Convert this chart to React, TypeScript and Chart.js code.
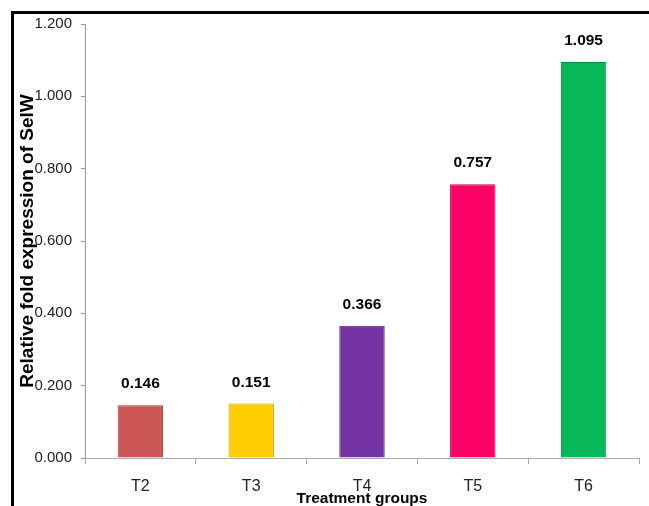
import React, { useEffect, useRef } from "react";
import { Chart, registerables } from "chart.js";

Chart.register(...registerables);

const categories = ["T2", "T3", "T4", "T5", "T6"];
const values = [0.146, 0.151, 0.366, 0.757, 1.095];
const barColors = ["#CD5757", "#FFCC00", "#7434A4", "#FF0066", "#06B858"];
const borderColors = ["#9E3E3E", "#C9A000", "#552680", "#C4004E", "#008A40"];
const yTickValues = [0, 0.2, 0.4, 0.6, 0.8, 1.0, 1.2];

const FONT = '"Liberation Sans", Arial, sans-serif';

const valueLabels = {
  id: "valueLabels",
  afterDatasetsDraw(chart: any) {
    const ctx = chart.ctx;
    const meta = chart.getDatasetMeta(0);
    ctx.save();
    ctx.font = `bold 15.5px ${FONT}`;
    ctx.fillStyle = "#000";
    ctx.textAlign = "center";
    ctx.textBaseline = "middle";
    meta.data.forEach((el: any, i: number) => {
      ctx.fillText(values[i].toFixed(3), el.x, el.y - 21);
    });
    ctx.restore();
  },
};

export default function App() {
  const ref = useRef<HTMLCanvasElement>(null);
  useEffect(() => {
    if (!ref.current) return;
    const chart = new Chart(ref.current, {
      type: "bar",
      data: {
        labels: categories,
        datasets: [
          {
            data: values,
            backgroundColor: barColors,
            borderColor: borderColors,
            borderWidth: 1,
            categoryPercentage: 1,
            barPercentage: 0.41,
          },
        ],
      },
      options: {
        responsive: false,
        animation: false,
        layout: { padding: { left: 15, top: 24, right: 10, bottom: 0 } },
        plugins: { legend: { display: false }, tooltip: { enabled: false } },
        scales: {
          x: {
            grid: {
              display: true,
              drawOnChartArea: false,
              drawTicks: true,
              tickLength: 6,
              color: "#aaaaaa",
              offset: true,
            },
            border: { display: true, color: "#aaaaaa", width: 1 },
            ticks: { font: { family: FONT, size: 16 }, color: "#222", padding: 13 },
            title: {
              display: true,
              text: "Treatment groups",
              font: { family: FONT, size: 15.5, weight: "bold" },
              color: "#000",
              padding: { top: 0, bottom: -2 },
            },
            afterFit: (s: any) => {
              s.height = 48;
            },
          },
          y: {
            min: 0,
            max: 1.2,
            afterBuildTicks: (s: any) => {
              s.ticks = yTickValues.map((v) => ({ value: v }));
            },
            ticks: {
              callback: (v: any) => Number(v).toFixed(3),
              font: { family: FONT, size: 15 },
              color: "#222",
              padding: 9,
            },
            grid: { display: true, drawOnChartArea: false, tickLength: 4, color: "#999999" },
            border: { display: true, color: "#999999", width: 1 },
            title: {
              display: true,
              text: "Relative fold expression of SelW",
              font: { family: FONT, size: 19, weight: "bold" },
              color: "#000",
              padding: { top: 1, bottom: 1 },
            },
            afterFit: (s: any) => {
              s.width = 70;
            },
          },
        },
      },
      plugins: [valueLabels],
    });
    return () => chart.destroy();
  }, []);

  return (
    <div style={{ position: "fixed", left: 0, top: 0, width: 649, height: 506, background: "#fff" }}>
      <canvas ref={ref} width={649} height={506} style={{ position: "absolute", left: 0, top: 0 }} />
      <div
        style={{
          position: "absolute",
          left: 11,
          top: 11,
          width: 649 - 11,
          height: 506 - 11,
          borderTop: "3px solid #000",
          borderLeft: "3px solid #000",
          boxSizing: "border-box",
          pointerEvents: "none",
        }}
      />
    </div>
  );
}
